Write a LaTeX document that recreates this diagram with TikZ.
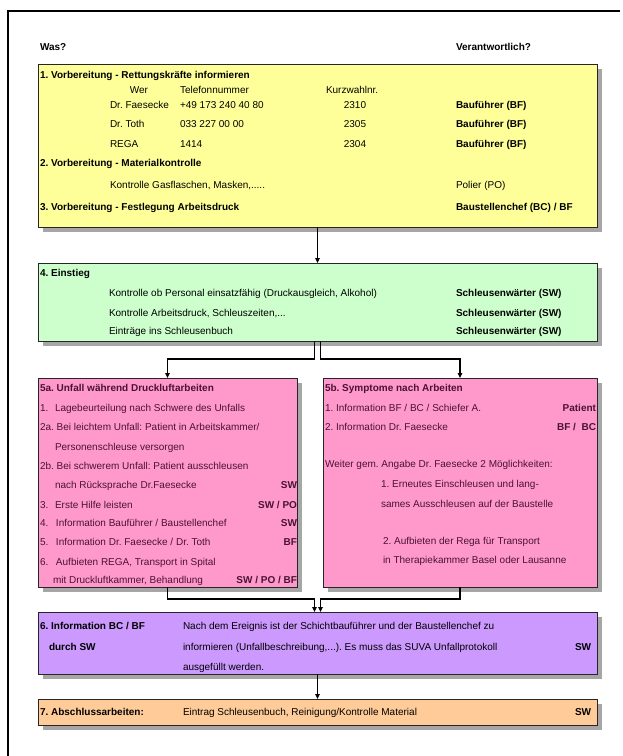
\documentclass[tikz,border=0pt]{standalone}
\usepackage{fontspec}
\setmainfont{Liberation Sans}
\usetikzlibrary{arrows.meta}
\definecolor{cyellow}{HTML}{FFFF99}
\definecolor{cgreen}{HTML}{CCFFCC}
\definecolor{cpink}{HTML}{FF99CC}
\definecolor{cpurple}{HTML}{CC99FF}
\definecolor{corange}{HTML}{FFCC99}
\definecolor{pinktext}{HTML}{4A1233}
\newcommand\myfs{\fontsize{10}{11}\selectfont}
\newcommand\drawflowbox[6]{%
  \fill[shadowstyle] (#2+5,#3+5) rectangle (#4+5,#5+5);
  \node[boxstyle, fill=#6, minimum width=#4pt-#2pt, minimum height=#5pt-#3pt] (#1) at (#2,#3) {};}
\frenchspacing
\begin{document}
\begin{tikzpicture}[x=1pt,y=-1pt,
  every node/.style={inner sep=0pt, outer sep=0pt},
  boxstyle/.style={draw=black!85, line width=1pt, anchor=north west},
  shadowstyle/.style={fill=black!35},
  txt/.style={anchor=base west, font=\myfs},
  txtb/.style={anchor=base west, font=\myfs\bfseries},
  rtb/.style={anchor=base east, font=\myfs\bfseries},
  ctr/.style={anchor=base, font=\myfs},
  pk/.style={text=pinktext},
  conn/.style={line width=1.1pt},
  arr/.style={conn, -{Triangle[length=5pt,width=4.5pt]}},
]
\useasboundingbox (0,0) rectangle (622,756);
\fill[white] (0,0) rectangle (622,756);
\draw[line width=1.5pt] (8,756) -- (8,11) -- (620,11);

\node[txtb] (was) at (40,50.5) {Was?};
\node[txtb] (ver) at (456,50.5) {Verantwortlich?};

% boxes
\drawflowbox{yellow}{38}{64}{597}{227}{cyellow}
\drawflowbox{green}{38}{263}{597}{341}{cgreen}
\drawflowbox{pa}{38}{378}{297}{587}{cpink}
\drawflowbox{pb}{323}{378}{597}{587}{cpink}
\drawflowbox{purple}{38}{612}{597}{674}{cpurple}
\drawflowbox{orange}{38}{699}{597}{725}{corange}

% yellow
\node[txtb] (y1) at (40,78.5) {1. Vorbereitung - Rettungskräfte informieren};
\node[ctr] (y2) at (139,93.5) {Wer};
\node[txt] (y3) at (180,93.5) {Telefonnummer};
\node[txt] (y4) at (326,93.5) {Kurzwahlnr.};
\node[txt] (y5) at (110,108.5) {Dr. Faesecke};
\node[txt] (y6) at (180,108.5) {+49 173 240 40 80};
\node[ctr] (y7) at (355,108.5) {2310};
\node[txtb] (y8) at (456,108.5) {Bauführer (BF)};
\node[txt] (y9) at (110,127.5) {Dr. Toth};
\node[txt] (y10) at (180,127.5) {033 227 00 00};
\node[ctr] (y11) at (355,127.5) {2305};
\node[txtb] (y12) at (456,127.5) {Bauführer (BF)};
\node[txt] (y13) at (110,147.5) {REGA};
\node[txt] (y14) at (180,147.5) {1414};
\node[ctr] (y15) at (355,147.5) {2304};
\node[txtb] (y16) at (456,147.5) {Bauführer (BF)};
\node[txtb] (y17) at (40,166.5) {2. Vorbereitung - Materialkontrolle};
\node[txt] (y18) at (110,188.5) {Kontrolle Gasflaschen, Masken,.....};
\node[txt] (y19) at (456,188.5) {Polier (PO)};
\node[txtb] (y20) at (40,210.5) {3. Vorbereitung - Festlegung Arbeitsdruck};
\node[txtb] (y21) at (456,210.5) {Baustellenchef (BC) / BF};

% green
\node[txtb] (g1) at (40,276.5) {4. Einstieg};
\node[txt] (g2) at (109,296.5) {Kontrolle ob Personal einsatzfähig (Druckausgleich, Alkohol)};
\node[txtb] (g3) at (456,296.5) {Schleusenwärter (SW)};
\node[txt] (g4) at (109,316.5) {Kontrolle Arbeitsdruck, Schleuszeiten,...};
\node[txtb] (g5) at (456,316.5) {Schleusenwärter (SW)};
\node[txt] (g6) at (109,334.5) {Einträge ins Schleusenbuch};
\node[txtb] (g7) at (456,334.5) {Schleusenwärter (SW)};

% 5a
\begin{scope}[every node/.append style={pk}]
\node[txtb] (a0) at (40,391.5) {5a. Unfall während Druckluftarbeiten};
\node[txt] (a1n) at (40,411.5) {1.};
\node[txt] (a1) at (55,411.5) {Lagebeurteilung nach Schwere des Unfalls};
\node[txt] (a2) at (40,430.5) {2a. Bei leichtem Unfall: Patient in Arbeitskammer/};
\node[txt] (a3) at (55,450.5) {Personenschleuse versorgen};
\node[txt] (a4) at (40,469.5) {2b. Bei schwerem Unfall: Patient ausschleusen};
\node[txt] (a5) at (55,488.5) {nach Rücksprache Dr.Faesecke};
\node[rtb] (a5r) at (297,488.5) {SW};
\node[txt] (a6n) at (40,508.5) {3.};
\node[txt] (a6) at (55,508.5) {Erste Hilfe leisten};
\node[rtb] (a6r) at (297,508.5) {SW / PO};
\node[txt] (a7n) at (40,526.5) {4.};
\node[txt] (a7) at (56,526.5) {Information Bauführer / Baustellenchef};
\node[rtb] (a7r) at (297,526.5) {SW};
\node[txt] (a8n) at (40,545.5) {5.};
\node[txt] (a8) at (56,545.5) {Information Dr. Faesecke / Dr. Toth};
\node[rtb] (a8r) at (297,545.5) {BF};
\node[txt] (a9n) at (40,565.5) {6.};
\node[txt] (a9) at (56,565.5) {Aufbieten REGA, Transport in Spital};
\node[txt] (a10) at (53,583.5) {mit Druckluftkammer, Behandlung};
\node[rtb] (a10r) at (297,583.5) {SW / PO / BF};

% 5b
\node[txtb] (b0) at (325,391.5) {5b. Symptome nach Arbeiten};
\node[txt] (b1) at (325,411.5) {1. Information BF / BC / Schiefer A.};
\node[rtb] (b1r) at (596,411.5) {Patient};
\node[txt] (b2) at (325,430.5) {2. Information Dr. Faesecke};
\node[rtb] (b2r) at (596,430.5) {BF /\ \ BC};
\node[txt] (b3) at (325,467.5) {Weiter gem. Angabe Dr. Faesecke 2 Möglichkeiten:};
\node[txt] (b4) at (381,487.5) {1. Erneutes Einschleusen und lang-};
\node[txt] (b5) at (381,507.5) {sames Ausschleusen auf der Baustelle};
\node[txt] (b6) at (383,544.5) {2. Aufbieten der Rega für Transport};
\node[txt] (b7) at (383,563.5) {in Therapiekammer Basel oder Lausanne};
\end{scope}

% purple
\node[txtb] (p1) at (40,629.5) {6. Information BC / BF};
\node[txtb] (p2) at (49,650) {durch SW};
\node[txt] (p3) at (183,629.5) {Nach dem Ereignis ist der Schichtbauführer und der Baustellenchef zu};
\node[txt] (p4) at (183,650) {informieren (Unfallbeschreibung,...). Es muss das SUVA Unfallprotokoll};
\node[txtb] (p5) at (575,650) {SW};
\node[txt] (p6) at (183,670.5) {ausgefüllt werden.};

% orange
\node[txtb] (o1) at (40,715.5) {7. Abschlussarbeiten:};
\node[txt] (o2) at (183,715.5) {Eintrag Schleusenbuch, Reinigung/Kontrolle Material};
\node[txtb] (o3) at (575,715.5) {SW};

% connectors
\draw[arr] (yellow.south) -- (green.north);
\draw[arr] ([xshift=-3pt]green.south) -- ++(0,18) -| (pa.north);
\draw[arr] ([xshift=3pt]green.south) -- ++(0,18) -| (pb.north);
\draw[arr] (pa.south) -- ++(0,12) -| ([xshift=-3pt]purple.north);
\draw[arr] (pb.south) -- ++(0,12) -| ([xshift=3pt]purple.north);
\draw[arr] (purple.south) -- (orange.north);
\end{tikzpicture}
\end{document}
